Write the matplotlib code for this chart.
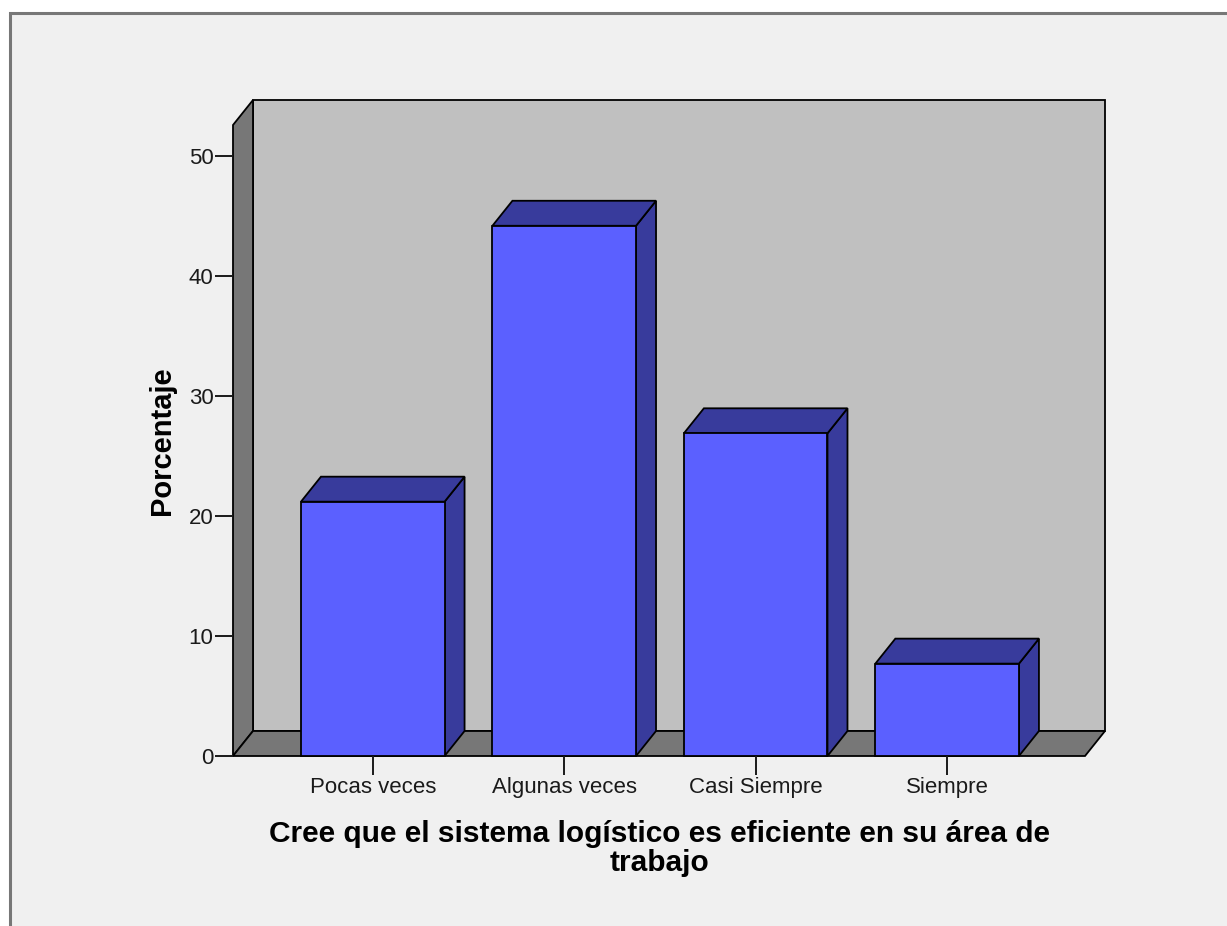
import matplotlib
matplotlib.use('Agg')
import matplotlib.pyplot as plt
from matplotlib.patches import Polygon, Rectangle
import numpy as np

plt.rcParams['font.family'] = ['Liberation Sans', 'DejaVu Sans']

# Data
categories = ['Pocas veces', 'Algunas veces', 'Casi Siempre', 'Siempre']
percentages = [21.2, 44.2, 26.9, 7.7]
y_ticks = [0, 10, 20, 30, 40, 50]
x_label = 'Cree que el sistema logístico es eficiente en su área de\ntrabajo'
y_label = 'Porcentaje'

# Style
W, H, DPI = 1227, 926, 100
DX, DY = 20, 25          # 3D depth offset in pixels
BAR_W = 0.75
FRONT = '#5b60ff'
SHADE = '#383b9c'
WALL = '#c0c0c0'
SIDE = '#777777'
BG = '#f0f0f0'

fig = plt.figure(figsize=(W / DPI, H / DPI), dpi=DPI, facecolor='white')

# outer frame (light grey panel with grey border)
fig.patches.append(Rectangle((10 / W, -0.05), 1.1, (H - 13) / H + 0.05,
                             transform=fig.transFigure, facecolor=BG,
                             edgecolor='#777777', linewidth=2.2, zorder=-10))

ax = fig.add_axes([233 / W, (H - 756) / H, (1085 - 233) / W, (756 - 125) / H])
ax.set_zorder(5)
ax.set_xlim(-0.73, len(categories) - 1 + 0.72)
ax.set_ylim(0, 52.6)
ax.patch.set_visible(False)
for s in ax.spines.values():
    s.set_visible(False)

x = np.arange(len(categories))


def box(points, face, z):
    # points: (xdata, ydata, back_flag) -> polygon in pixel coordinates
    verts = []
    for px, py, back in points:
        dx, dy = ax.transData.transform((px, py))
        verts.append((dx + DX * back, dy + DY * back))
    p = Polygon(verts, closed=True, facecolor=face, edgecolor='black',
                linewidth=1.3, transform=None, zorder=z)
    fig.patches.append(p)


x0, x1 = ax.get_xlim()
ytop = ax.get_ylim()[1]
# back wall
box([(x0, 0, 1), (x1, 0, 1), (x1, ytop, 1), (x0, ytop, 1)], WALL, 1)
# left side wall
box([(x0, 0, 0), (x0, 0, 1), (x0, ytop, 1), (x0, ytop, 0)], SIDE, 2)
# floor
box([(x0, 0, 0), (x1, 0, 0), (x1, 0, 1), (x0, 0, 1)], SIDE, 2)

# bars
for xi, v in zip(x, percentages):
    l, r = xi - BAR_W / 2, xi + BAR_W / 2
    box([(r, 0, 0), (r, 0, 1), (r, v, 1), (r, v, 0)], SHADE, 3)
    box([(l, v, 0), (r, v, 0), (r, v, 1), (l, v, 1)], SHADE, 3)
    box([(l, 0, 0), (r, 0, 0), (r, v, 0), (l, v, 0)], FRONT, 4)

# ticks
ax.set_yticks(y_ticks)
ax.set_yticklabels([str(t) for t in y_ticks], fontsize=16, color='#1a1a1a')
ax.set_xticks(x)
ax.set_xticklabels(categories, fontsize=16, color='#1a1a1a')
ax.tick_params(axis='y', length=13, width=1.4, pad=1, color='#1a1a1a')
ax.tick_params(axis='x', length=14, width=1.4, pad=1, color='#1a1a1a')

ax.set_xlabel(x_label, fontsize=21.5, fontweight='bold', linespacing=1.05)
ax.xaxis.set_label_coords(0.501, -0.101)
ax.set_ylabel(y_label, fontsize=21, fontweight='bold')
ax.yaxis.set_label_coords(-0.067, 0.50)

fig.savefig('out.png', dpi=DPI, facecolor=fig.get_facecolor())
